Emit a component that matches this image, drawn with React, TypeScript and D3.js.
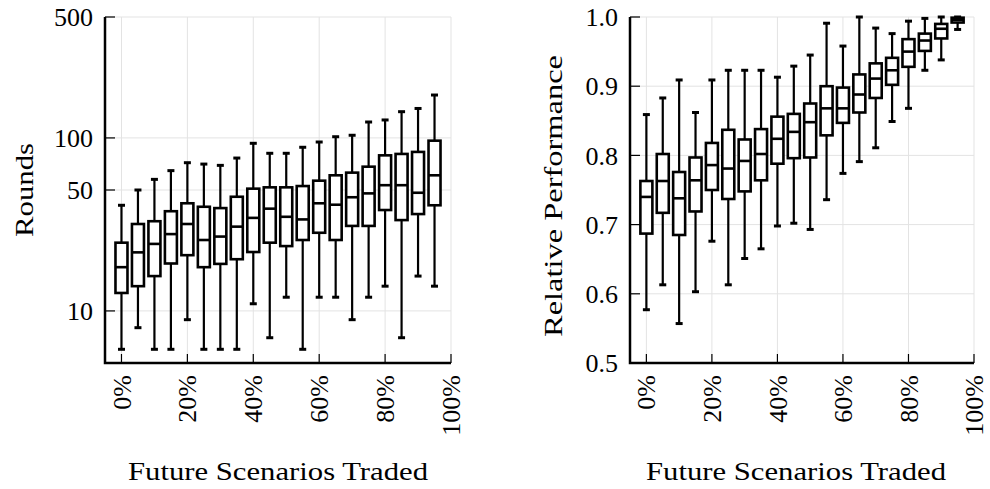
import React, { useRef, useEffect } from "react";
import * as d3 from "d3";

// share of future scenarios traded (%), one box per step
const scenarios = [0, 5, 10, 15, 20, 25, 30, 35, 40, 45, 50, 55, 60, 65, 70, 75, 80, 85, 90, 95];
const xTickValues = [0, 20, 40, 60, 80, 100];

// left panel: rounds (log scale)
const roundsHigh = [40.8, 50, 57.6, 64.7, 71.9, 70.6, 69.4, 76.5, 93.1, 81.5, 81.5, 88.3, 94.7, 101.6, 103.6, 123.6, 127, 141.8, 148, 177];
const roundsQ3 = [24.8, 31.8, 33, 37.7, 41.9, 40, 39.3, 45.7, 50.9, 51.8, 51.8, 52.7, 56.6, 60.8, 63, 68.2, 79.3, 80.8, 83, 96.4];
const roundsMedian = [17.9, 21.8, 24.4, 27.8, 31.8, 25.7, 26.9, 30.7, 34.5, 39, 35, 33.8, 41.9, 41.1, 45.4, 47.8, 53.3, 53.3, 48.2, 60.8];
const roundsQ1 = [12.7, 13.9, 15.9, 18.8, 21, 17.9, 18.7, 19.9, 21.9, 24.8, 23.7, 25.7, 28.3, 25.7, 31, 31, 38.3, 33.5, 36.3, 40.8];
const roundsLow = [6, 8, 6, 6, 8.9, 6, 6, 6, 11, 7, 12, 6, 12, 12, 8.9, 12, 13.9, 7, 15.9, 13.9];
const roundsTicks = [10, 50, 100, 500];

// right panel: relative performance
const perfHigh = [0.859, 0.883, 0.909, 0.862, 0.909, 0.923, 0.923, 0.923, 0.913, 0.929, 0.945, 0.991, 0.958, 1.0, 0.984, 0.976, 0.994, 0.998, 1.0, 1.0];
const perfQ3 = [0.763, 0.802, 0.776, 0.797, 0.818, 0.837, 0.823, 0.838, 0.856, 0.86, 0.875, 0.9, 0.898, 0.917, 0.933, 0.941, 0.968, 0.976, 0.99, 0.999];
const perfMedian = [0.74, 0.763, 0.738, 0.764, 0.786, 0.781, 0.792, 0.802, 0.824, 0.834, 0.848, 0.868, 0.868, 0.888, 0.911, 0.923, 0.95, 0.966, 0.983, 0.996];
const perfQ1 = [0.687, 0.717, 0.685, 0.719, 0.75, 0.737, 0.748, 0.764, 0.788, 0.796, 0.797, 0.829, 0.847, 0.862, 0.883, 0.902, 0.928, 0.951, 0.969, 0.992];
const perfLow = [0.577, 0.613, 0.557, 0.603, 0.676, 0.613, 0.651, 0.665, 0.698, 0.702, 0.693, 0.736, 0.774, 0.791, 0.811, 0.849, 0.868, 0.923, 0.938, 0.982];
const perfTicks = [0.5, 0.6, 0.7, 0.8, 0.9, 1.0];

const FONT = "'Liberation Serif', 'Times New Roman', serif";

function drawPanel(svg, opts) {
    const { left, right, top, bottom, yScale, yTicks, yFormat, yLabel, yLabelX, yLabelY, yLabelLen, titleX, stats } = opts;

    const xScale = d3.scaleLinear().domain([-5, 100]).range([left, right]);
    const g = svg.append("g");

    // grid
    g.selectAll(".vgrid")
        .data(xTickValues)
        .join("line")
        .attr("x1", d => xScale(d)).attr("x2", d => xScale(d))
        .attr("y1", top).attr("y2", bottom)
        .attr("stroke", "#e3e3e3").attr("stroke-width", 1);
    g.selectAll(".hgrid")
        .data(yTicks)
        .join("line")
        .attr("x1", left).attr("x2", right)
        .attr("y1", d => yScale(d)).attr("y2", d => yScale(d))
        .attr("stroke", "#e3e3e3").attr("stroke-width", 1);

    // boxes
    const rows = scenarios.map((s, i) => ({
        s, low: stats[0][i], q1: stats[1][i], med: stats[2][i], q3: stats[3][i], high: stats[4][i]
    }));
    const bw = 12;
    const boxes = g.selectAll(".box").data(rows).join("g");
    boxes.append("line")
        .attr("x1", d => xScale(d.s)).attr("x2", d => xScale(d.s))
        .attr("y1", d => yScale(d.high)).attr("y2", d => yScale(d.low))
        .attr("stroke", "black").attr("stroke-width", 2.2);
    boxes.append("line")
        .attr("x1", d => xScale(d.s) - 3.5).attr("x2", d => xScale(d.s) + 3.5)
        .attr("y1", d => yScale(d.high)).attr("y2", d => yScale(d.high))
        .attr("stroke", "black").attr("stroke-width", 3);
    boxes.append("line")
        .attr("x1", d => xScale(d.s) - 3.5).attr("x2", d => xScale(d.s) + 3.5)
        .attr("y1", d => yScale(d.low)).attr("y2", d => yScale(d.low))
        .attr("stroke", "black").attr("stroke-width", 3);
    boxes.append("rect")
        .attr("x", d => xScale(d.s) - bw / 2)
        .attr("width", bw)
        .attr("y", d => yScale(d.q3))
        .attr("height", d => yScale(d.q1) - yScale(d.q3))
        .attr("fill", "white").attr("stroke", "black").attr("stroke-width", 2.6);
    boxes.append("line")
        .attr("x1", d => xScale(d.s) - bw / 2).attr("x2", d => xScale(d.s) + bw / 2)
        .attr("y1", d => yScale(d.med)).attr("y2", d => yScale(d.med))
        .attr("stroke", "black").attr("stroke-width", 2.6);

    // ticks (pointing inward)
    g.selectAll(".xt")
        .data(xTickValues)
        .join("line")
        .attr("x1", d => xScale(d)).attr("x2", d => xScale(d))
        .attr("y1", bottom).attr("y2", bottom - 9)
        .attr("stroke", "black").attr("stroke-width", 1.2);
    g.selectAll(".yt")
        .data(yTicks)
        .join("line")
        .attr("x1", left).attr("x2", left + 10)
        .attr("y1", d => yScale(d)).attr("y2", d => yScale(d))
        .attr("stroke", "black").attr("stroke-width", 1.2);

    // axis lines
    g.append("path")
        .attr("d", `M${left},${top}V${bottom}H${right}`)
        .attr("fill", "none").attr("stroke", "black").attr("stroke-width", 2.5);

    // tick labels
    g.selectAll(".xl")
        .data(xTickValues)
        .join("text")
        .attr("transform", d => `translate(${xScale(d)},${bottom + 12}) rotate(-90)`)
        .attr("text-anchor", "end")
        .attr("dy", "0.35em")
        .attr("font-family", FONT).attr("font-size", 26)
        .text(d => d + "%");
    g.selectAll(".yl")
        .data(yTicks)
        .join("text")
        .attr("x", left - 12)
        .attr("y", d => yScale(d))
        .attr("dy", "0.35em")
        .attr("text-anchor", "end")
        .attr("font-family", FONT).attr("font-size", 26)
        .text(yFormat);

    // titles
    g.append("text")
        .attr("x", titleX).attr("y", 480)
        .attr("text-anchor", "middle")
        .attr("font-family", FONT).attr("font-size", 26)
        .attr("textLength", 300).attr("lengthAdjust", "spacingAndGlyphs")
        .text("Future Scenarios Traded");
    g.append("text")
        .attr("transform", `translate(${yLabelX},${yLabelY}) rotate(-90)`)
        .attr("text-anchor", "middle")
        .attr("font-family", FONT).attr("font-size", 26)
        .attr("textLength", yLabelLen).attr("lengthAdjust", "spacingAndGlyphs")
        .text(yLabel);
}

function BoxPanels() {
    const svgRef = useRef(null);

    useEffect(() => {
        const svg = d3.select(svgRef.current);
        svg.selectAll("*").remove();

        const top = 17, bottom = 363;

        const yLog = d3.scaleLog().domain([5, 500]).range([bottom, top]);
        drawPanel(svg, {
            left: 105, right: 451, top, bottom,
            yScale: yLog, yTicks: roundsTicks, yFormat: d => String(d),
            yLabel: "Rounds", yLabelX: 33, yLabelY: 190, yLabelLen: 94, titleX: 278,
            stats: [roundsLow, roundsQ1, roundsMedian, roundsQ3, roundsHigh]
        });

        const yLin = d3.scaleLinear().domain([0.5, 1.0]).range([bottom, top]);
        drawPanel(svg, {
            left: 630, right: 974, top, bottom,
            yScale: yLin, yTicks: perfTicks, yFormat: d3.format(".1f"),
            yLabel: "Relative Performance", yLabelX: 562, yLabelY: 196, yLabelLen: 282, titleX: 796,
            stats: [perfLow, perfQ1, perfMedian, perfQ3, perfHigh]
        });
    }, []);

    return (
        <svg ref={svgRef} width={990} height={489}
            style={{ position: "absolute", left: 0, top: 0, background: "white" }} />
    );
}

export default function App() {
    return <BoxPanels />;
}
